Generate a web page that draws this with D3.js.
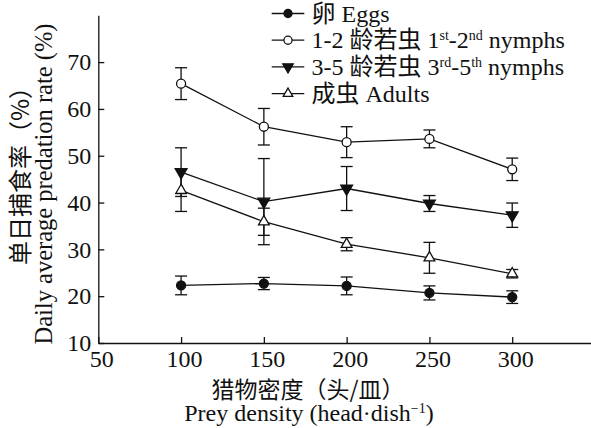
<!DOCTYPE html>
<html>
<head>
<meta charset="utf-8">
<script src="https://cdn.jsdelivr.net/npm/d3@7"></script>
<style>
  body { margin: 0; background: #fff; }
  svg { display: block; }
</style>
</head>
<body>
<div id="chart"></div>
<script>
// prey density (head per dish)
const densities = [100, 150, 200, 250, 300];

// mean daily predation rate (%) and error (±)
const eggs      = [22.3, 22.7, 22.2, 20.7, 19.8];
const eggsErr   = [2.0, 1.3, 1.9, 1.5, 1.35];
const nymph12    = [65.4, 56.2, 52.9, 53.6, 47.1];
const nymph12Err = [3.4, 3.9, 3.3, 1.9, 2.4];
const nymph35    = [46.5, 40.2, 43.0, 39.8, 37.3];
const nymph35Err = [5.2, 9.2, 4.7, 1.7, 2.6];
const adults    = [42.6, 35.9, 31.1, 28.2, 24.8];
const adultsErr = [4.5, 2.9, 1.4, 3.3, 0.9];

const xTicks = [50, 100, 150, 200, 250, 300];
const yTicks = [10, 20, 30, 40, 50, 60, 70];

const width = 591, height = 428;
const SERIF = '"Liberation Serif"';
const CJK = '"Noto Sans CJK SC"';
const INK = '#111';

const svg = d3.select('#chart')
  .append('svg')
    .attr('width', width)
    .attr('height', height);

const x = d3.scaleLinear().domain([50, 350]).range([98.3, 595]);
const y = d3.scaleLinear().domain([10, 80]).range([343, 15.3]);

// helper: text made of pieces, CJK pieces get the CJK font
function richText(sel, parts) {
  let raised = false;
  sel.style('font-family', SERIF).attr('fill', INK);
  parts.forEach(([str, kind]) => {
    const ts = sel.append('tspan').text(str).style('font-family', SERIF);
    if (kind === 'cjk') ts.style('font-family', CJK);
    if (kind === 'sup') {
      ts.style('font-size', '14px');
      if (!raised) { ts.attr('dy', -8); raised = true; }
    } else if (raised) {
      ts.attr('dy', 8);
      raised = false;
    }
  });
  return sel;
}

function styleAxis(g) {
  g.attr('font-family', null).attr('font-size', null);
  g.selectAll('path, line').attr('stroke', INK).attr('stroke-width', 1.3);
  g.selectAll('text')
      .style('font-family', SERIF)
      .style('font-size', '24px')
      .attr('fill', INK);
}

// axes, ticks pointing inward
svg.append('g')
    .attr('transform', `translate(0, ${y(10)})`)
    .call(d3.axisBottom(x).tickValues(xTicks).tickSize(-6).tickSizeOuter(0).tickPadding(7))
    .call(styleAxis)
    .call(g => g.selectAll('text').attr('dx', 3));

svg.append('g')
    .attr('transform', `translate(${x(50)}, 0)`)
    .call(d3.axisLeft(y).tickValues(yTicks).tickSize(-6).tickSizeOuter(0).tickPadding(7))
    .call(styleAxis);

// axis titles
svg.append('text')
    .attr('x', 308).attr('y', 388)
    .attr('text-anchor', 'middle')
    .attr('dominant-baseline', 'central')
    .attr('fill', INK)
    .style('font-family', CJK)
    .style('font-size', '23px')
    .text('猎物密度（头/皿）');

richText(svg.append('text')
    .attr('x', 309).attr('y', 421)
    .attr('text-anchor', 'middle')
    .style('font-size', '24px'),
  [['Prey density (head·dish'], ['−1', 'sup'], [')']]);

svg.append('text')
    .attr('transform', 'translate(18, 170) rotate(-90)')
    .attr('text-anchor', 'middle')
    .attr('dominant-baseline', 'central')
    .attr('fill', INK)
    .style('font-family', CJK)
    .style('font-size', '24px')
    .text('单日捕食率（%）');

svg.append('text')
    .attr('transform', 'translate(43, 184) rotate(-90)')
    .attr('text-anchor', 'middle')
    .attr('dominant-baseline', 'central')
    .attr('fill', INK)
    .style('font-family', SERIF)
    .style('font-size', '24.5px')
    .text('Daily average predation rate (%)');

// series
const series = [
  { name: 'eggs',    values: eggs,    errors: eggsErr,    shape: d3.symbolCircle,   size: 64, fill: INK,    rotate: 0 },
  { name: 'nymph12', values: nymph12, errors: nymph12Err, shape: d3.symbolCircle,   size: 64, fill: '#fff', rotate: 0 },
  { name: 'nymph35', values: nymph35, errors: nymph35Err, shape: d3.symbolTriangle, size: 60, fill: INK,    rotate: 180 },
  { name: 'adults',  values: adults,  errors: adultsErr,  shape: d3.symbolTriangle, size: 50, fill: '#fff', rotate: 0 }
];

const line = d3.line()
  .x(d => x(d.x))
  .y(d => y(d.y));

const capHalf = 6;

series.forEach(s => {
  const pts = densities.map((dx, i) => ({ x: dx, y: s.values[i], e: s.errors[i] }));
  const g = svg.append('g').attr('class', `series series--${s.name}`);

  g.append('path')
      .datum(pts)
      .attr('d', line)
      .attr('fill', 'none')
      .attr('stroke', INK)
      .attr('stroke-width', 1.3);

  const err = g.selectAll('.err')
    .data(pts)
    .enter()
    .append('g')
      .attr('class', 'err')
      .attr('stroke', INK)
      .attr('stroke-width', 1.3);

  err.append('line')
      .attr('x1', d => x(d.x)).attr('x2', d => x(d.x))
      .attr('y1', d => y(d.y + d.e)).attr('y2', d => y(d.y - d.e));
  err.append('line')
      .attr('x1', d => x(d.x) - capHalf).attr('x2', d => x(d.x) + capHalf)
      .attr('y1', d => y(d.y + d.e)).attr('y2', d => y(d.y + d.e));
  err.append('line')
      .attr('x1', d => x(d.x) - capHalf).attr('x2', d => x(d.x) + capHalf)
      .attr('y1', d => y(d.y - d.e)).attr('y2', d => y(d.y - d.e));
});

// markers on top
series.forEach(s => {
  svg.append('g')
    .selectAll('path')
    .data(densities.map((dx, i) => ({ x: dx, y: s.values[i] })))
    .enter()
    .append('path')
      .attr('d', d3.symbol().type(s.shape).size(s.size))
      .attr('transform', d => `translate(${x(d.x)}, ${y(d.y)}) rotate(${s.rotate})`)
      .attr('fill', s.fill)
      .attr('stroke', INK)
      .attr('stroke-width', 1.3);
});

// legend
const legendItems = [
  { s: series[0], parts: [['卵', 'cjk'], [' Eggs']] },
  { s: series[1], parts: [['1-2 '], ['龄若虫', 'cjk'], [' 1'], ['st', 'sup'], ['-2'], ['nd', 'sup'], [' nymphs']] },
  { s: series[2], parts: [['3-5 '], ['龄若虫', 'cjk'], [' 3'], ['rd', 'sup'], ['-5'], ['th', 'sup'], [' nymphs']] },
  { s: series[3], parts: [['成虫', 'cjk'], [' Adults']] }
];

const legend = svg.append('g').attr('class', 'legend');

legendItems.forEach((item, i) => {
  const ly = 13.5 + i * 26.7;
  const row = legend.append('g').attr('transform', `translate(0, ${ly})`);
  row.append('line')
      .attr('x1', 271.7).attr('x2', 304.3)
      .attr('y1', 0).attr('y2', 0)
      .attr('stroke', INK)
      .attr('stroke-width', 1.3);
  row.append('path')
      .attr('d', d3.symbol().type(item.s.shape).size(item.s.size * 0.8))
      .attr('transform', `translate(288, 0) rotate(${item.s.rotate})`)
      .attr('fill', item.s.fill)
      .attr('stroke', INK)
      .attr('stroke-width', 1.3);
  richText(row.append('text')
      .attr('x', 311.5).attr('y', 8)
      .style('font-size', '24px'), item.parts);
});
</script>
</body>
</html>
